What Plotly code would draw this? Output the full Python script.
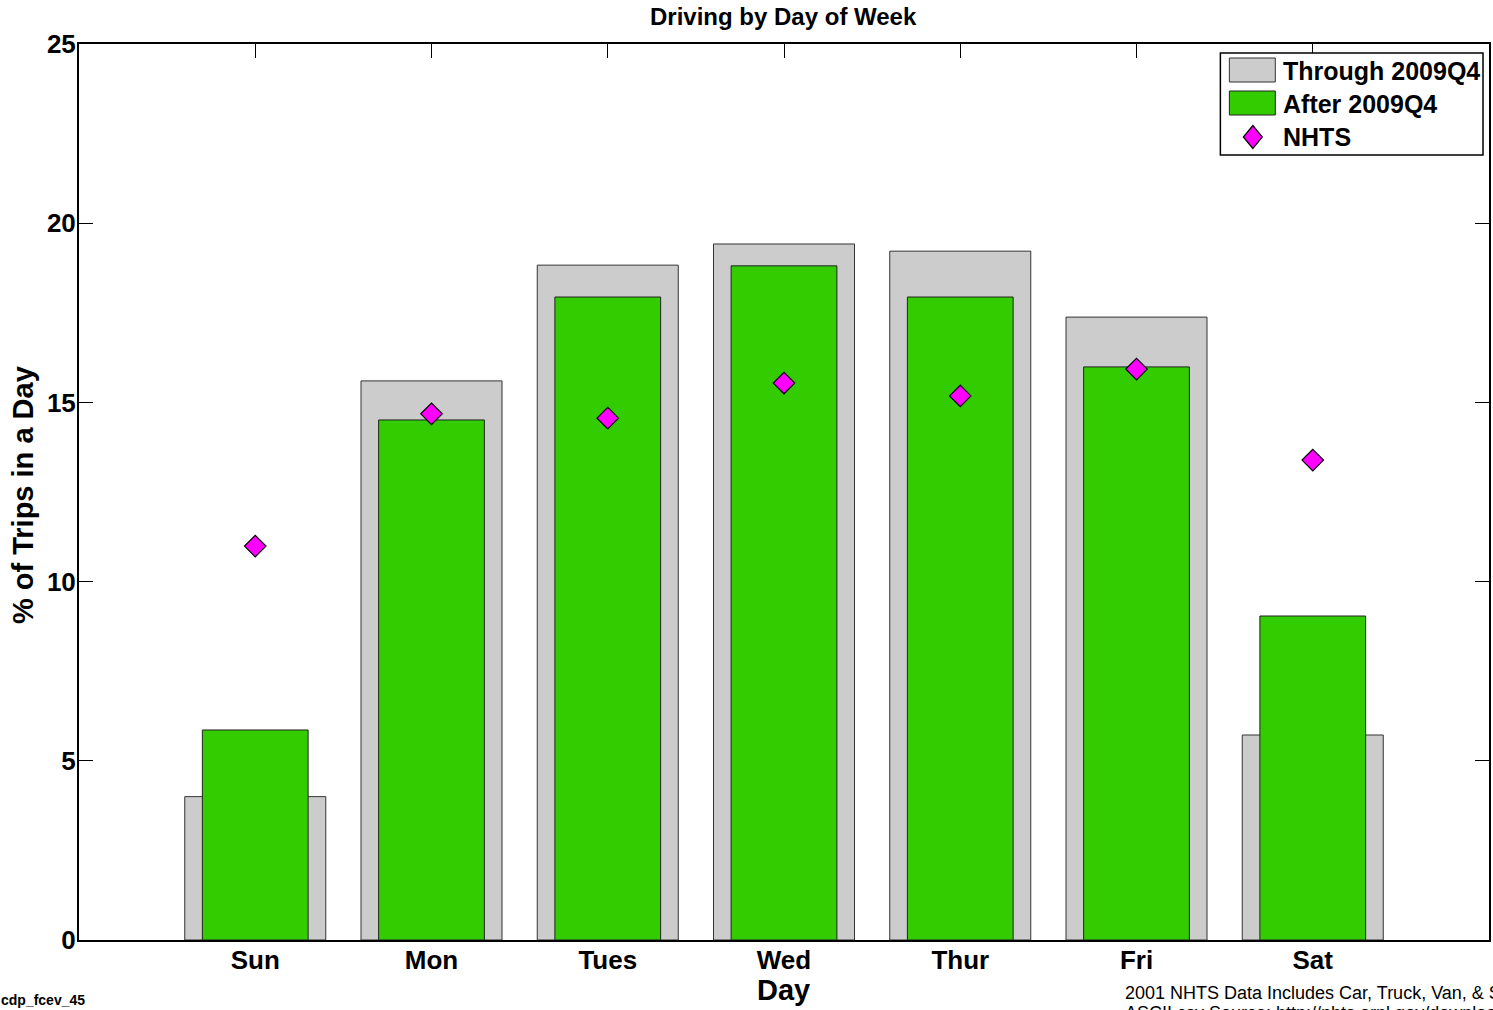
import plotly.graph_objects as go

days = ["Sun", "Mon", "Tues", "Wed", "Thur", "Fri", "Sat"]
day_pos = [1, 2, 3, 4, 5, 6, 7]
through_2009q4 = [4.0, 15.6, 18.83, 19.42, 19.22, 17.38, 5.72]
after_2009q4 = [5.86, 14.51, 17.94, 18.81, 17.94, 15.99, 9.04]
nhts = [10.99, 14.68, 14.56, 15.54, 15.18, 15.93, 13.39]
y_ticks = [0, 5, 10, 15, 20, 25]

FONT = "Liberation Sans, Arial, sans-serif"
W, H = 1493, 1010
L, R, T, B = 79, 2, 44, 70
PW, PH = W - L - R, H - T - B

GRAY = "#cccccc"
GREEN = "#33cc00"
MAGENTA = "#ff00ff"


def px(x):
    return (x - L) / PW


def py(y):
    return (H - B - y) / PH


fig = go.Figure()
fig.add_trace(go.Bar(
    x=day_pos, y=through_2009q4, width=0.8, name="Through 2009Q4",
    marker=dict(color=GRAY, line=dict(color="#333333", width=1)),
))
fig.add_trace(go.Bar(
    x=day_pos, y=after_2009q4, width=0.6, name="After 2009Q4",
    marker=dict(color=GREEN, line=dict(color="#222222", width=1)),
))
fig.add_trace(go.Scatter(
    x=day_pos, y=nhts, mode="markers", name="NHTS",
    marker=dict(symbol="diamond", size=16.5, color=MAGENTA,
                line=dict(color="black", width=1.2)),
))

fig.update_layout(
    width=W, height=H,
    barmode="overlay",
    plot_bgcolor="white", paper_bgcolor="white",
    margin=dict(l=L, r=R, t=T, b=B),
    font=dict(family=FONT, color="black"),
    showlegend=False,
    xaxis=dict(
        range=[0, 8], tickmode="array", tickvals=day_pos,
        ticktext=["<b>%s</b>" % d for d in days],
        ticks="inside", ticklen=14, tickcolor="black", tickwidth=1,
        showline=True, linecolor="black", linewidth=2, mirror="ticks",
        showgrid=False, zeroline=False,
        tickfont=dict(size=26, family=FONT),
        ticklabelstandoff=-4,
        layer="below traces",
    ),
    yaxis=dict(
        range=[0, 25], tickmode="array", tickvals=y_ticks,
        ticktext=["<b>%d</b>" % v for v in y_ticks],
        ticks="inside", ticklen=14, tickcolor="black", tickwidth=1,
        showline=True, linecolor="black", linewidth=2, mirror="ticks",
        showgrid=False, zeroline=False,
        tickfont=dict(size=26, family=FONT),
        ticklabelstandoff=-4,
    ),
)

# Title and axis titles
fig.add_annotation(text="<b>Driving by Day of Week</b>", xref="paper", yref="paper",
                   x=px(784), y=py(16), xanchor="center", yanchor="middle",
                   showarrow=False, font=dict(size=24, family=FONT))
fig.add_annotation(text="<b>Day</b>", xref="paper", yref="paper",
                   x=px(784), y=py(990), xanchor="center", yanchor="middle",
                   showarrow=False, font=dict(size=29, family=FONT))
fig.add_annotation(text="<b>% of Trips in a Day</b>", xref="paper", yref="paper",
                   x=px(23), y=py(495), xanchor="center", yanchor="middle",
                   textangle=-90, showarrow=False, font=dict(size=29, family=FONT))

# Legend drawn by hand (box, swatches, labels)
legend_labels = ["Through 2009Q4", "After 2009Q4", "NHTS"]
fig.add_shape(type="rect", xref="paper", yref="paper",
              x0=px(1222), x1=px(1485), y0=py(155), y1=py(53),
              line=dict(color="black", width=1.5), fillcolor="white", layer="above")
fig.add_shape(type="rect", xref="paper", yref="paper",
              x0=px(1231), x1=px(1277), y0=py(82), y1=py(58),
              line=dict(color="#333333", width=1), fillcolor=GRAY, layer="above")
fig.add_shape(type="rect", xref="paper", yref="paper",
              x0=px(1231), x1=px(1277), y0=py(115), y1=py(91),
              line=dict(color="#222222", width=1), fillcolor=GREEN, layer="above")
cx, cy, hw, hh = 1254.5, 137, 9.5, 11.5
fig.add_shape(type="path", xref="paper", yref="paper",
              path="M %f,%f L %f,%f L %f,%f L %f,%f Z" % (
                  px(cx), py(cy - hh), px(cx + hw), py(cy), px(cx), py(cy + hh), px(cx - hw), py(cy)),
              line=dict(color="black", width=1.2), fillcolor=MAGENTA, layer="above")
for lbl, yy in zip(legend_labels, [71, 104, 137]):
    fig.add_annotation(text="<b>%s</b>" % lbl, xref="paper", yref="paper",
                       x=px(1283), y=py(yy), xanchor="left", yanchor="middle",
                       showarrow=False, font=dict(size=25, family=FONT))

# Footnotes
fig.add_annotation(
    text="<b>cdp_fcev_45</b>", xref="paper", yref="paper",
    x=px(-1), y=py(1000), xanchor="left", yanchor="middle",
    showarrow=False, font=dict(size=14, family=FONT),
)
fig.add_annotation(
    text="2001 NHTS Data Includes Car, Truck, Van, & SUV Trips",
    xref="paper", yref="paper",
    x=px(1124), y=py(993), xanchor="left", yanchor="middle",
    align="left", showarrow=False, font=dict(size=18, family=FONT),
)
fig.add_annotation(
    text="ASCII csv Source: http://nhts.ornl.gov/download.shtml",
    xref="paper", yref="paper",
    x=px(1124), y=py(1013), xanchor="left", yanchor="middle",
    align="left", showarrow=False, font=dict(size=18, family=FONT),
)

fig.write_html("out.html", config={"displayModeBar": False},
               post_script="document.body.style.margin='0';document.body.style.overflow='hidden';")
